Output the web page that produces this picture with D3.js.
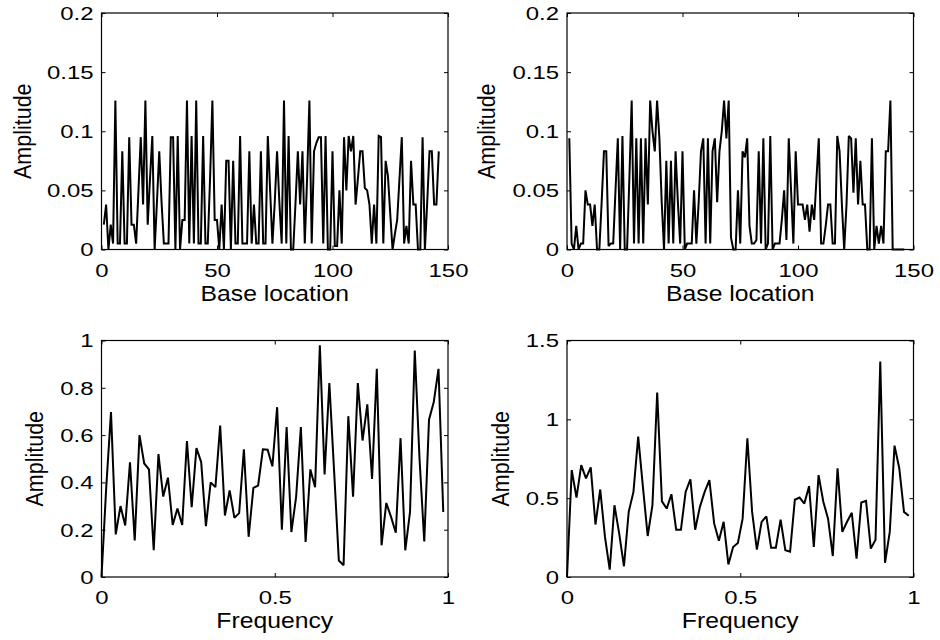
<!DOCTYPE html>
<html>
<head>
<meta charset="utf-8">
<script src="https://cdn.jsdelivr.net/npm/d3@7"></script>
<style>
  html, body { margin: 0; padding: 0; background: #fff; }
  svg { display: block; }
  text { font-family: "Liberation Sans", Arial, Helvetica, sans-serif; fill: #000; }
</style>
</head>
<body>
<svg id="chart" width="940" height="640"></svg>
<script>
// ---------------- DATA ----------------
// Top-left: amplitude vs base location (positions 1..146)
const sigA = [
  0.021, 0.038, 0.000, 0.021, 0.005, 0.126, 0.005, 0.005, 0.083, 0.005,
  0.005, 0.095, 0.021, 0.021, 0.005, 0.050, 0.095, 0.038, 0.126, 0.021,
  0.060, 0.096, 0.000, 0.040, 0.083, 0.040, 0.005, 0.005, 0.005, 0.095,
  0.095, 0.000, 0.096, 0.000, 0.025, 0.025, 0.126, 0.005, 0.096, 0.005,
  0.126, 0.005, 0.005, 0.096, 0.005, 0.005, 0.060, 0.126, 0.025, 0.025,
  0.000, 0.038, 0.000, 0.075, 0.075, 0.000, 0.075, 0.005, 0.005, 0.096,
  0.005, 0.005, 0.005, 0.083, 0.005, 0.038, 0.005, 0.005, 0.083, 0.005,
  0.005, 0.096, 0.050, 0.005, 0.040, 0.083, 0.040, 0.005, 0.126, 0.005,
  0.096, 0.000, 0.000, 0.040, 0.083, 0.038, 0.083, 0.005, 0.060, 0.126,
  0.005, 0.083, 0.090, 0.095, 0.095, 0.005, 0.096, 0.000, 0.000, 0.083,
  0.003, 0.003, 0.050, 0.005, 0.095, 0.050, 0.096, 0.083, 0.096, 0.038,
  0.060, 0.083, 0.083, 0.052, 0.050, 0.038, 0.005, 0.038, 0.005, 0.096,
  0.095, 0.005, 0.075, 0.062, 0.030, 0.000, 0.013, 0.025, 0.060, 0.095,
  0.005, 0.020, 0.005, 0.075, 0.038, 0.038, 0.000, 0.000, 0.095, 0.000,
  0.040, 0.083, 0.083, 0.038, 0.038, 0.083
];
// Top-right: amplitude vs base location (positions 1..146)
const sigB = [
  0.094, 0.005, 0.000, 0.020, 0.000, 0.005, 0.005, 0.050, 0.038, 0.038,
  0.020, 0.038, 0.000, 0.000, 0.040, 0.083, 0.083, 0.003, 0.005, 0.005,
  0.050, 0.094, 0.000, 0.096, 0.000, 0.000, 0.060, 0.126, 0.005, 0.094,
  0.005, 0.094, 0.005, 0.094, 0.038, 0.126, 0.100, 0.083, 0.126, 0.094,
  0.040, 0.000, 0.075, 0.005, 0.075, 0.005, 0.083, 0.040, 0.005, 0.083,
  0.000, 0.005, 0.005, 0.005, 0.050, 0.005, 0.040, 0.083, 0.094, 0.005,
  0.094, 0.005, 0.083, 0.094, 0.040, 0.083, 0.100, 0.126, 0.094, 0.126,
  0.010, 0.000, 0.000, 0.050, 0.005, 0.083, 0.078, 0.094, 0.020, 0.005,
  0.005, 0.008, 0.083, 0.005, 0.094, 0.000, 0.005, 0.096, 0.000, 0.005,
  0.005, 0.005, 0.025, 0.050, 0.008, 0.094, 0.050, 0.005, 0.083, 0.038,
  0.038, 0.038, 0.025, 0.038, 0.015, 0.038, 0.025, 0.060, 0.094, 0.005,
  0.005, 0.020, 0.038, 0.038, 0.005, 0.005, 0.096, 0.083, 0.038, 0.000,
  0.038, 0.096, 0.094, 0.048, 0.094, 0.038, 0.075, 0.038, 0.038, 0.000,
  0.000, 0.094, 0.000, 0.020, 0.005, 0.020, 0.005, 0.083, 0.083, 0.126,
  0.000, 0.000, 0.000, 0.000, 0.000, 0.000
];
// Bottom-left: amplitude spectrum (frequency k/73)
const specA = [
  0.000, 0.380, 0.697, 0.180, 0.300, 0.218, 0.485, 0.155, 0.600, 0.480,
  0.455, 0.113, 0.520, 0.340, 0.420, 0.220, 0.290, 0.220, 0.575, 0.295,
  0.545, 0.486, 0.215, 0.400, 0.380, 0.640, 0.260, 0.366, 0.250, 0.270,
  0.540, 0.170, 0.377, 0.387, 0.540, 0.538, 0.468, 0.718, 0.200, 0.634,
  0.190, 0.338, 0.634, 0.148, 0.455, 0.380, 0.980, 0.434, 0.820, 0.450,
  0.070, 0.050, 0.680, 0.340, 0.820, 0.577, 0.730, 0.415, 0.880, 0.134,
  0.313, 0.254, 0.187, 0.587, 0.113, 0.275, 0.958, 0.500, 0.150, 0.665,
  0.740, 0.880, 0.275
];
// Bottom-right: amplitude spectrum (frequency k/73)
const specB = [
  0.000, 0.678, 0.504, 0.710, 0.625, 0.695, 0.333, 0.555, 0.254, 0.047,
  0.455, 0.275, 0.068, 0.413, 0.540, 0.890, 0.570, 0.260, 0.455, 1.170,
  0.480, 0.434, 0.525, 0.300, 0.300, 0.540, 0.620, 0.300, 0.445, 0.540,
  0.614, 0.340, 0.230, 0.350, 0.080, 0.190, 0.216, 0.370, 0.880, 0.413,
  0.174, 0.350, 0.385, 0.186, 0.186, 0.364, 0.170, 0.160, 0.490, 0.504,
  0.466, 0.576, 0.190, 0.646, 0.477, 0.370, 0.133, 0.690, 0.286, 0.350,
  0.407, 0.117, 0.472, 0.483, 0.180, 0.237, 1.367, 0.090, 0.286, 0.833,
  0.690, 0.413, 0.388
];
const specBins = 73;

// Axis ticks and labels
const baseTicks = [0, 50, 100, 150];
const baseTickLabels = ["0", "50", "100", "150"];
const freqTicks = [0, 0.5, 1];
const freqTickLabels = ["0", "0.5", "1"];
const sigYTicks = [0, 0.05, 0.1, 0.15, 0.2];
const sigYTickLabels = ["0", "0.05", "0.1", "0.15", "0.2"];
const specAYTicks = [0, 0.2, 0.4, 0.6, 0.8, 1];
const specAYTickLabels = ["0", "0.2", "0.4", "0.6", "0.8", "1"];
const specBYTicks = [0, 0.5, 1, 1.5];
const specBYTickLabels = ["0", "0.5", "1", "1.5"];
const xTitleTop = "Base location";
const xTitleBottom = "Frequency";
const yTitle = "Amplitude";

// ---------------- LAYOUT / STYLE ----------------
const svg = d3.select("#chart");
const tickFont = 18, tickSX = 1.33;
const labFont = 21.5, labSX = 1.15;
const tickLen = 4;

function panel(cfg) {
  const { x0, y0, w, h, xDomain, yDomain, xTicks, xLabels, yTicks, yLabels,
          pts, xTitle, yTitleX } = cfg;
  const g = svg.append("g").attr("transform", `translate(${x0},${y0})`);
  const xs = d3.scaleLinear().domain(xDomain).range([0, w]);
  const ys = d3.scaleLinear().domain(yDomain).range([h, 0]);

  const fmtX = (d, i) => xLabels[i];
  const fmtY = (d, i) => yLabels[i];

  const gb = g.append("g").attr("transform", `translate(0,${h})`)
    .call(d3.axisBottom(xs).tickValues(xTicks).tickFormat(fmtX)
      .tickSizeInner(-tickLen).tickSizeOuter(0).tickPadding(0));
  g.append("g")
    .call(d3.axisTop(xs).tickValues(xTicks).tickFormat("")
      .tickSizeInner(-tickLen).tickSizeOuter(0));
  const gl = g.append("g")
    .call(d3.axisLeft(ys).tickValues(yTicks).tickFormat(fmtY)
      .tickSizeInner(-tickLen).tickSizeOuter(0).tickPadding(0));
  g.append("g").attr("transform", `translate(${w},0)`)
    .call(d3.axisRight(ys).tickValues(yTicks).tickFormat("")
      .tickSizeInner(-tickLen).tickSizeOuter(0));

  g.selectAll(".domain").remove();
  g.selectAll(".tick line").attr("stroke", "#000").attr("stroke-width", 1);

  gb.selectAll(".tick text")
    .attr("font-size", tickFont).attr("font-family", null)
    .attr("y", null).attr("dy", null)
    .attr("text-anchor", "middle")
    .attr("transform", `translate(0,27) scale(${tickSX},1)`);
  gl.selectAll(".tick text")
    .attr("font-size", tickFont).attr("font-family", null)
    .attr("x", null).attr("dy", "0.35em")
    .attr("text-anchor", "end")
    .attr("transform", `translate(-8,0) scale(${tickSX},1)`);

  g.append("rect").attr("x", 0).attr("y", 0).attr("width", w).attr("height", h)
    .attr("fill", "none").attr("stroke", "#000").attr("stroke-width", 1.2);

  const line = d3.line().x(d => xs(d[0])).y(d => ys(d[1]));
  g.append("path").datum(pts).attr("d", line)
    .attr("fill", "none").attr("stroke", "#000").attr("stroke-width", 2)
    .attr("stroke-linejoin", "miter").attr("stroke-miterlimit", 2);

  g.append("text").text(xTitle)
    .attr("font-size", labFont).attr("text-anchor", "middle")
    .attr("transform", `translate(${w / 2},${h + 51}) scale(${labSX},1)`);
  g.append("text").text(yTitle)
    .attr("font-size", labFont).attr("text-anchor", "middle").attr("dy", "0.35em")
    .attr("transform", `translate(${yTitleX},${h / 2}) scale(${labSX},1) rotate(-90)`);
}

const L = 101.5, R = 567, W = 346.5, T = 13, B = 340.5, H = 236.5;

panel({ x0: L, y0: T, w: W, h: H, xDomain: [0, 150], yDomain: [0, 0.2],
  xTicks: baseTicks, xLabels: baseTickLabels, yTicks: sigYTicks, yLabels: sigYTickLabels,
  pts: sigA.map((v, i) => [i + 1, v]), xTitle: xTitleTop, yTitleX: -79 });
panel({ x0: R, y0: T, w: W, h: H, xDomain: [0, 150], yDomain: [0, 0.2],
  xTicks: baseTicks, xLabels: baseTickLabels, yTicks: sigYTicks, yLabels: sigYTickLabels,
  pts: sigB.map((v, i) => [i + 1, v]), xTitle: xTitleTop, yTitleX: -81 });
panel({ x0: L, y0: B, w: W, h: H, xDomain: [0, 1], yDomain: [0, 1],
  xTicks: freqTicks, xLabels: freqTickLabels, yTicks: specAYTicks, yLabels: specAYTickLabels,
  pts: specA.map((v, i) => [i / specBins, v]), xTitle: xTitleBottom, yTitleX: -67 });
panel({ x0: R, y0: B, w: W, h: H, xDomain: [0, 1], yDomain: [0, 1.5],
  xTicks: freqTicks, xLabels: freqTickLabels, yTicks: specBYTicks, yLabels: specBYTickLabels,
  pts: specB.map((v, i) => [i / specBins, v]), xTitle: xTitleBottom, yTitleX: -67 });
</script>
</body>
</html>
